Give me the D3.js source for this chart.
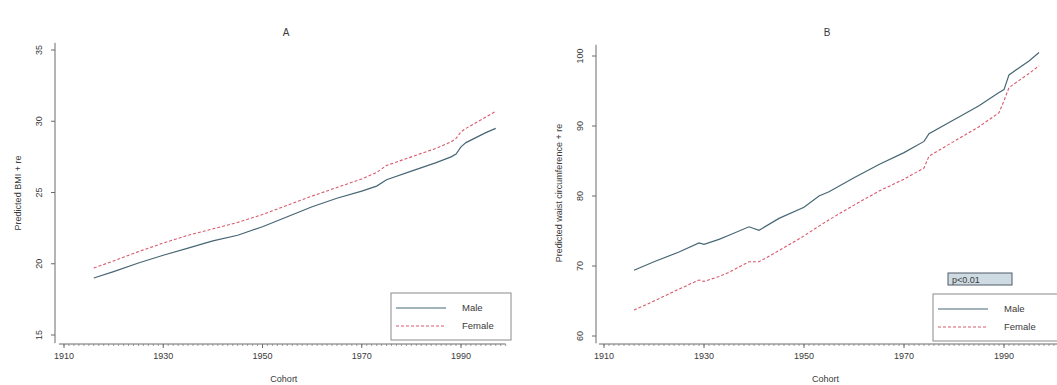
<!DOCTYPE html>
<html><head><meta charset="utf-8">
<script src="https://cdn.jsdelivr.net/npm/d3@7"></script>
<style>body{margin:0;background:#fff}svg{display:block}text{font-family:"Liberation Sans",Arial,sans-serif;fill:#3a3a3a}</style>
</head><body><svg id="c" width="1057" height="385"></svg>
<script>
// Panel A: predicted BMI
const bmiYears = [1916,1920,1925,1930,1935,1940,1945,1950,1955,1960,1965,1970,1973,1975,1980,1985,1988,1989,1990,1991,1995,1997];
const bmiMale   = [19.0,19.45,20.05,20.6,21.1,21.6,22.0,22.6,23.3,24.0,24.6,25.1,25.45,25.9,26.5,27.1,27.5,27.7,28.2,28.5,29.2,29.5];
const bmiFemale = [19.7,20.2,20.85,21.45,22.0,22.45,22.9,23.45,24.1,24.75,25.35,25.95,26.4,26.9,27.5,28.1,28.55,28.8,29.25,29.5,30.3,30.7];
// Panel B: predicted waist circumference
const wcYears  = [1916,1920,1925,1929,1930,1933,1935,1939,1941,1945,1950,1953,1955,1960,1965,1970,1974,1975,1980,1985,1989,1990,1991,1995,1997];
const wcMale   = [69.4,70.6,72.0,73.3,73.1,73.8,74.4,75.6,75.1,76.8,78.4,80.0,80.6,82.6,84.5,86.2,87.8,88.9,90.9,92.9,94.8,95.2,97.3,99.3,100.5];
const wcFemale = [63.7,65.0,66.7,68.0,67.8,68.5,69.1,70.6,70.6,72.2,74.3,75.7,76.6,78.7,80.7,82.4,84.0,85.7,87.8,89.9,91.9,93.6,95.5,97.5,98.6];
const xTicks = [1910,1930,1950,1970,1990];
const bmiTicks = [15,20,25,30,35];
const wcTicks = [60,70,80,90,100];
const seriesNames = ["Male","Female"];

const svg = d3.select("#c");
const maleColor = "#476675", femColor = "#d85a6c";

function panel(o){
  const g = svg.append("g");
  const x = d3.scaleLinear().domain([1910,1990]).range([o.x0,o.x1]);
  const y = d3.scaleLinear().domain([o.tv[0],o.tv[o.tv.length-1]]).range([o.yb,o.yt]);
  g.append("line").attr("x1",o.ax).attr("x2",o.ax).attr("y1",y(o.ydom[1])).attr("y2",y(o.ydom[0])+1)
    .attr("stroke","#6a6a6a").attr("stroke-width",1);
  o.tv.forEach(v=>{
    g.append("line").attr("x1",o.ax-4).attr("x2",o.ax).attr("y1",y(v)).attr("y2",y(v)).attr("stroke","#6a6a6a");
    g.append("text").attr("transform",`translate(${o.ax-13},${y(v)}) rotate(-90)`)
      .attr("text-anchor","middle").attr("font-size",9).text(v);
  });
  const xa = 344;
  g.append("line").attr("x1",x(o.xdom[0])).attr("x2",x(o.xdom[1])).attr("y1",xa).attr("y2",xa).attr("stroke","#6a6a6a");
  d3.range(1910, Math.floor(o.xdom[1])+1).forEach(yr=>{
    g.append("line").attr("x1",x(yr)).attr("x2",x(yr)).attr("y1",xa).attr("y2",xa+2).attr("stroke","#777").attr("stroke-width",0.7);
  });
  xTicks.forEach(t=>{
    g.append("line").attr("x1",x(t)).attr("x2",x(t)).attr("y1",xa).attr("y2",xa+4).attr("stroke","#6a6a6a");
    g.append("text").attr("x",x(t)).attr("y",xa+15).attr("text-anchor","middle").attr("font-size",9).text(t);
  });
  g.append("text").attr("x",(o.x0+x(1997))/2+4).attr("y",382).attr("text-anchor","middle").attr("font-size",9).text("Cohort");
  g.append("text").attr("x",o.titleX).attr("y",36).attr("text-anchor","middle").attr("font-size",10).text(o.title);
  g.append("text").attr("transform",`translate(${o.ax-34},193) rotate(-90)`).attr("text-anchor","middle")
    .attr("font-size",9).text(o.ytitle);
  const line = d3.line().x(d=>x(d[0])).y(d=>y(d[1]));
  g.append("path").datum(o.years.map((yr,i)=>[yr,o.male[i]])).attr("d",line)
    .attr("fill","none").attr("stroke",maleColor).attr("stroke-width",1.2);
  g.append("path").datum(o.years.map((yr,i)=>[yr,o.female[i]])).attr("d",line)
    .attr("fill","none").attr("stroke",femColor).attr("stroke-width",1.1).attr("stroke-dasharray","3,2");
  const L = o.leg;
  g.append("rect").attr("x",L.x).attr("y",L.y).attr("width",L.w).attr("height",47)
    .attr("fill","#fff").attr("stroke","#8a8a8a").attr("stroke-width",1);
  seriesNames.forEach((n,i)=>{
    const yy = L.y+15+i*18;
    g.append("line").attr("x1",L.x+5).attr("x2",L.x+55).attr("y1",yy).attr("y2",yy)
      .attr("stroke",i?femColor:maleColor).attr("stroke-width",1.1).attr("stroke-dasharray",i?"3,2":null);
    g.append("text").attr("x",L.x+71).attr("y",yy+3).attr("font-size",9.5).text(n);
  });
  if(o.pbox){
    g.append("rect").attr("x",o.pbox.x).attr("y",o.pbox.y).attr("width",64).attr("height",12)
      .attr("fill","#cfdbe3").attr("stroke","#4f5d66").attr("stroke-width",1);
    g.append("text").attr("x",o.pbox.x+4).attr("y",o.pbox.y+10).attr("font-size",9).attr("fill","#223").text("p<0.01");
  }
}

panel({x0:64,x1:461,ax:55,yb:335,yt:50,tv:bmiTicks,ydom:[14.5,35.5],xdom:[1909,1999],
  years:bmiYears,male:bmiMale,female:bmiFemale,title:"A",titleX:286,ytitle:"Predicted BMI + re",
  leg:{x:391,y:293,w:120}});
panel({x0:604,x1:1004,ax:596,yb:336,yt:56,tv:wcTicks,ydom:[59.1,101.6],xdom:[1909,2012],
  years:wcYears,male:wcMale,female:wcFemale,title:"B",titleX:827,ytitle:"Predicted waist circumference + re",
  leg:{x:933,y:294,w:140},pbox:{x:948,y:273}});
</script></body></html>
